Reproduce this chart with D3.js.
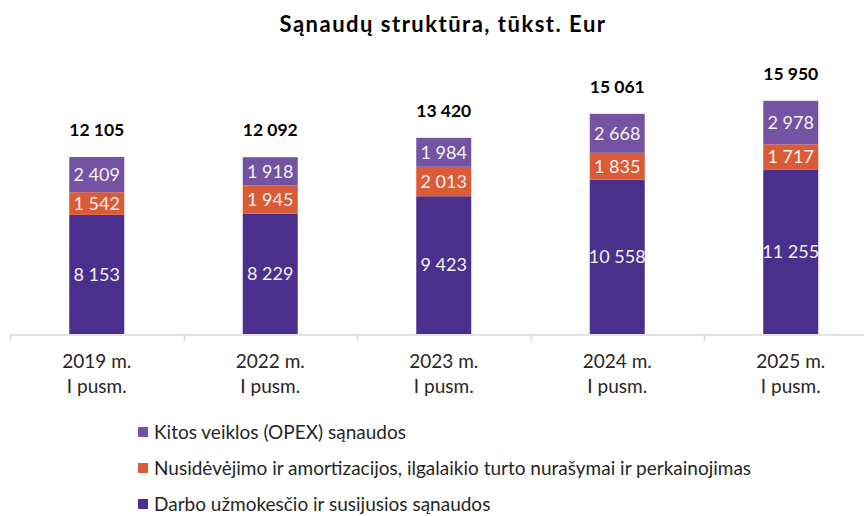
<!DOCTYPE html>
<html>
<head>
<meta charset="utf-8">
<script src="https://cdn.jsdelivr.net/npm/d3@7"></script>
<style>
  body { margin: 0; background: #fff; }
  svg { display: block; font-family: Lato, "Open Sans", sans-serif; }
</style>
</head>
<body>
<svg></svg>
<script>
let width = 864;
let height = 516;
let svg = d3.select("svg")
            .attr("width", width)
            .attr("height", height);

// data
let years = ["2019 m.", "2022 m.", "2023 m.", "2024 m.", "2025 m."];
let subLabel = "I pusm.";
let darbo = [8153, 8229, 9423, 10558, 11255];
let nusidevejimo = [1542, 1945, 2013, 1835, 1717];
let kitos = [2409, 1918, 1984, 2668, 2978];
let totals = [12105, 12092, 13420, 15061, 15950];

let seriesNames = [
  "Darbo užmokesčio ir susijusios sąnaudos",
  "Nusidėvėjimo ir amortizacijos, ilgalaikio turto nurašymai ir perkainojimas",
  "Kitos veiklos (OPEX) sąnaudos"
];
let colors = ["#4b2f8c", "#db5b36", "#7454a2"];

let table = years.map((y, i) => {
  return { year: y, s0: darbo[i], s1: nusidevejimo[i], s2: kitos[i], total: totals[i] };
});

let stack = d3.stack().keys(["s0", "s1", "s2"]);
let stacked = stack(table);

let xScale = d3.scaleBand()
               .domain(years)
               .range([10, 877.5])
               .paddingInner(0)
               .paddingOuter(0);

let yScale = d3.scaleLinear()
               .domain([0, 18000])
               .range([334, 334 - 18000 * 0.01462]);

let barW = 55;

// title
svg.append("text")
   .attr("x", 443)
   .attr("y", 32)
   .attr("text-anchor", "middle")
   .attr("font-weight", "bold")
   .attr("font-size", 22)
   .attr("letter-spacing", 1.5)
   .attr("fill", "#000")
   .text("Sąnaudų struktūra, tūkst. Eur");

// axis
let axis = svg.append("g")
   .attr("transform", "translate(0,334.5)")
   .call(d3.axisBottom(xScale).tickSize(0).tickFormat(""));
axis.select(".domain").attr("stroke", "#d9d9d9").attr("stroke-width", 1.5);

// category boundary ticks
svg.append("g").selectAll("line")
   .data(years)
   .enter()
   .append("line")
   .attr("x1", (d) => Math.round(xScale(d)) + 0.5)
   .attr("x2", (d) => Math.round(xScale(d)) + 0.5)
   .attr("y1", 334)
   .attr("y2", 341)
   .attr("stroke", "#d9d9d9")
   .attr("stroke-width", 1.5);

// bars
let groups = svg.selectAll("g.layer")
   .data(stacked)
   .enter()
   .append("g")
   .attr("class", "layer")
   .attr("fill", (d, i) => colors[i]);

groups.selectAll("rect")
   .data((d) => d)
   .enter()
   .append("rect")
   .attr("x", (d) => xScale(d.data.year) + xScale.bandwidth() / 2 - barW / 2)
   .attr("y", (d) => yScale(d[1]))
   .attr("width", barW)
   .attr("height", (d) => yScale(d[0]) - yScale(d[1]));

let fmtSp = (v) => d3.format(",")(v).replace(/,/g, " ");

// segment labels
groups.selectAll("text")
   .data((d) => d.map((p) => ({ p: p, key: d.key })))
   .enter()
   .append("text")
   .attr("x", (d) => xScale(d.p.data.year) + xScale.bandwidth() / 2)
   .attr("y", (d) => (yScale(d.p[0]) + yScale(d.p[1])) / 2)
   .attr("dy", "0.35em")
   .attr("text-anchor", "middle")
   .attr("font-size", 18)
   .attr("fill", "#f2f2f2")
   .text((d) => fmtSp(d.p.data[d.key]));

// totals
svg.append("g").selectAll("text")
   .data(table)
   .enter()
   .append("text")
   .attr("x", (d) => xScale(d.year) + xScale.bandwidth() / 2)
   .attr("y", (d) => yScale(d.total) - 27)
   .attr("dy", "0.35em")
   .attr("text-anchor", "middle")
   .attr("font-weight", "bold")
   .attr("font-size", 17.5)
   .attr("fill", "#000")
   .text((d) => fmtSp(d.total));

// category labels
let cat = svg.append("g").selectAll("text")
   .data(years)
   .enter()
   .append("text")
   .attr("x", (d) => xScale(d) + xScale.bandwidth() / 2)
   .attr("text-anchor", "middle")
   .attr("font-size", 19)
   .attr("fill", "#262626");
cat.append("tspan")
   .attr("x", (d) => xScale(d) + xScale.bandwidth() / 2)
   .attr("y", 368)
   .text((d) => d);
cat.append("tspan")
   .attr("x", (d) => xScale(d) + xScale.bandwidth() / 2)
   .attr("y", 393)
   .text(subLabel);

// legend (top to bottom: Kitos, Nusidėvėjimo, Darbo)
let legendOrder = [2, 1, 0];
let legend = svg.append("g").selectAll("g")
   .data(legendOrder)
   .enter()
   .append("g")
   .attr("transform", (d, i) => "translate(138," + (432 + i * 36) + ")");
legend.append("rect")
   .attr("x", 0)
   .attr("y", -5)
   .attr("width", 10)
   .attr("height", 10)
   .attr("fill", (d) => colors[d]);
legend.append("text")
   .attr("x", 16)
   .attr("y", 0)
   .attr("dy", "0.35em")
   .attr("font-size", 19)
   .attr("fill", "#262626")
   .text((d) => seriesNames[d]);
</script>
</body>
</html>
